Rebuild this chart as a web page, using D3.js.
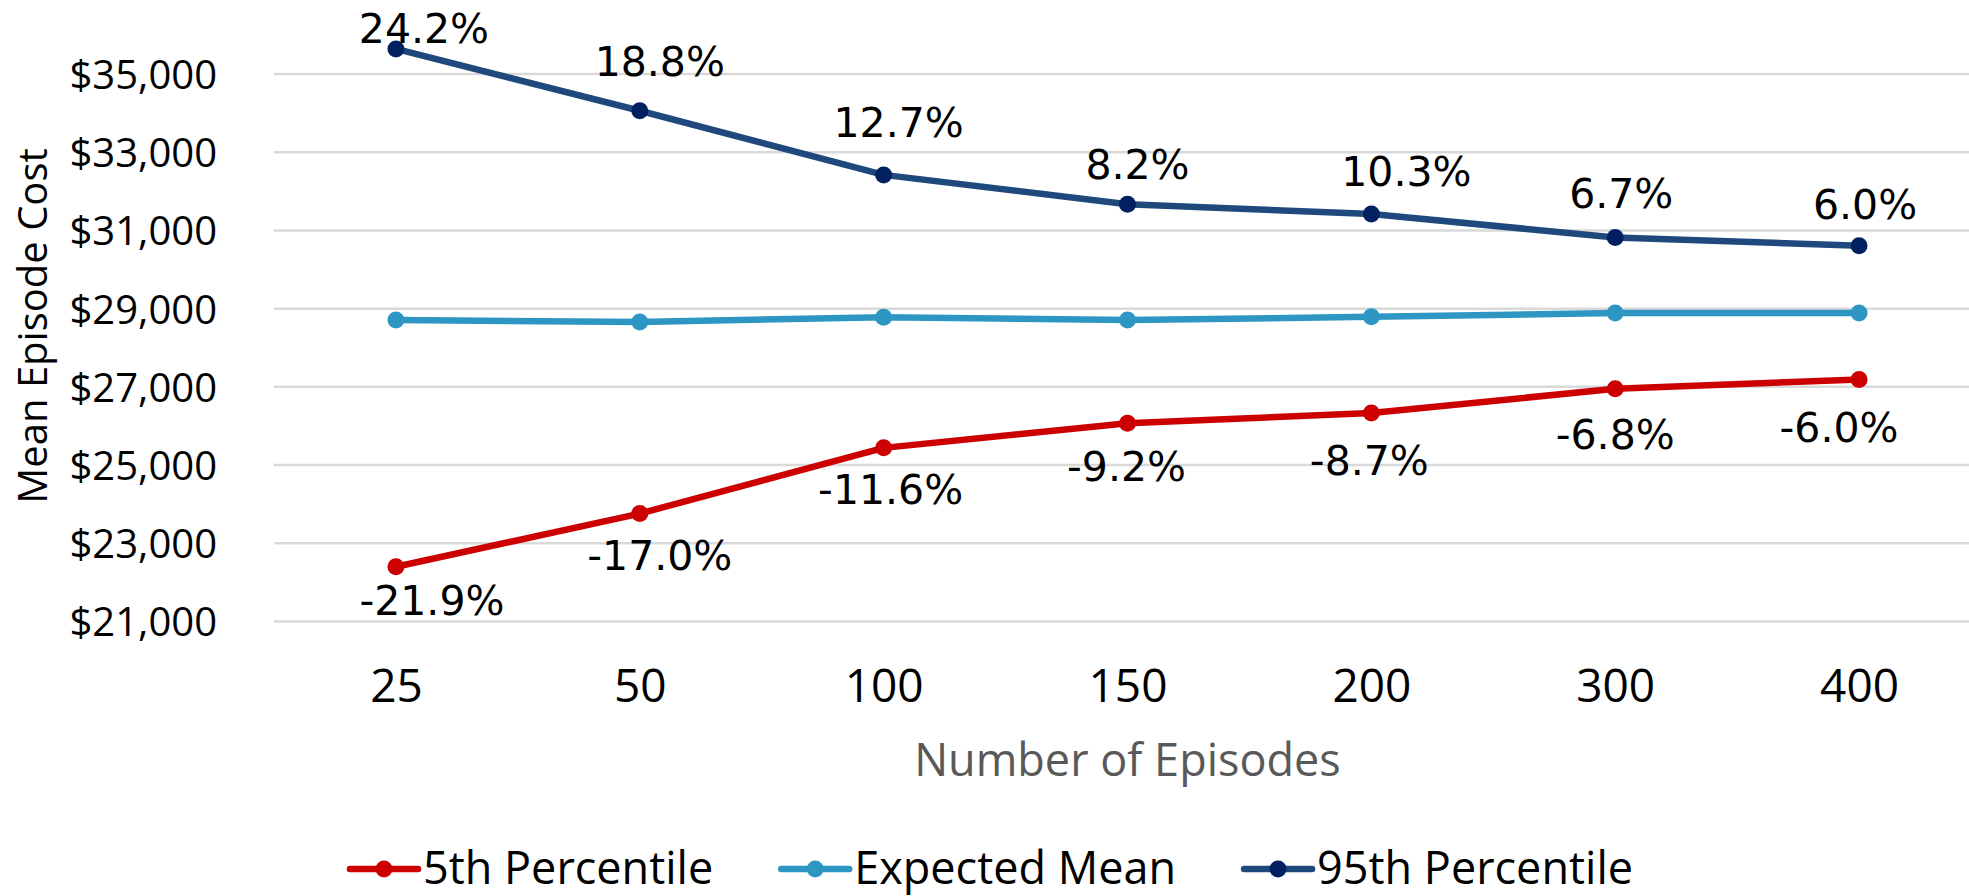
<!DOCTYPE html>
<html>
<head>
<meta charset="utf-8">
<script src="https://cdn.jsdelivr.net/npm/d3@7"></script>
<style>
  html, body { margin: 0; padding: 0; background: #ffffff; }
  svg { display: block; }
</style>
</head>
<body>
<svg id="chart" width="1969" height="896"></svg>
<script>
// Episode counts on the x axis
const episodes = ["25", "50", "100", "150", "200", "300", "400"];

// Mean episode cost by number of episodes
const p5Values = [22400, 23760, 25440, 26070, 26330, 26950, 27190];
const meanValues = [28710, 28660, 28780, 28710, 28790, 28890, 28890];
const p95Values = [35640, 34060, 32420, 31670, 31420, 30820, 30610];

// Percent differences from the expected mean, printed by the points
const p5Labels = ["-21.9%", "-17.0%", "-11.6%", "-9.2%", "-8.7%", "-6.8%", "-6.0%"];
const p95Labels = ["24.2%", "18.8%", "12.7%", "8.2%", "10.3%", "6.7%", "6.0%"];

// Y axis ticks
const yTicks = [21000, 23000, 25000, 27000, 29000, 31000, 33000, 35000];

// Hand placement of the percentage labels relative to their points [dx, dy]
const p95LabelNudge = [[28, -6], [20, -35], [15, -38], [10, -25], [35, -28], [6, -29], [6, -27]];
const p5LabelNudge = [[36, 48], [20, 56], [7, 56], [-1, 58], [-2, 62], [0, 60], [-20, 63]];

const series = [
  { name: "5th Percentile", values: p5Values, line: "#cc0000", marker: "#cc0000" },
  { name: "Expected Mean", values: meanValues, line: "#2e96c3", marker: "#2e96c3" },
  { name: "95th Percentile", values: p95Values, line: "#1f497d", marker: "#002060" }
];

const svg = d3.select("#chart");
const W = 1969, H = 896;
svg.append("rect").attr("width", W).attr("height", H).attr("fill", "#ffffff");

const plot = { left: 274, right: 1981, top: 74, bottom: 621.5 };

const x = d3.scalePoint().domain(episodes).range([plot.left, plot.right]).padding(0.5);
const y = d3.scaleLinear().domain([21000, 35000]).range([plot.bottom, plot.top]);

const axisFont = "'Open Sans', 'Noto Sans', sans-serif";
const labelFont = "'DejaVu Sans', Verdana, sans-serif";

// Horizontal gridlines
svg.append("g").selectAll("line").data(yTicks).join("line")
  .attr("x1", plot.left).attr("x2", plot.right)
  .attr("y1", d => y(d)).attr("y2", d => y(d))
  .attr("stroke", "#d9d9d9").attr("stroke-width", 2.5);

// Y axis tick labels
const yAxis = d3.axisLeft(y).tickValues(yTicks).tickSize(0).tickPadding(0)
  .tickFormat(d => "$" + d3.format(",")(d));
const gy = svg.append("g").attr("transform", "translate(217,0)").call(yAxis);
gy.select(".domain").remove();
gy.selectAll("text")
  .attr("font-family", axisFont).attr("font-size", 40).attr("fill", "#000")
  .attr("dy", "0.36em");

// X axis tick labels
const xAxis = d3.axisBottom(x).tickSize(0).tickPadding(0);
const gx = svg.append("g").attr("transform", "translate(0,702)").call(xAxis);
gx.select(".domain").remove();
gx.selectAll("text")
  .attr("font-family", axisFont).attr("font-size", 46).attr("fill", "#000")
  .attr("dy", 0).attr("y", 0);

// Axis titles
svg.append("text")
  .attr("x", (plot.left + plot.right) / 2).attr("y", 776)
  .attr("text-anchor", "middle")
  .attr("font-family", axisFont).attr("font-size", 45).attr("fill", "#595959")
  .text("Number of Episodes");

svg.append("text")
  .attr("transform", "translate(47,326) rotate(-90)")
  .attr("text-anchor", "middle")
  .attr("font-family", axisFont).attr("font-size", 40).attr("fill", "#000")
  .text("Mean Episode Cost");

// Series lines and markers
const line = d3.line().x((d, i) => x(episodes[i])).y(d => y(d));
series.forEach(s => {
  svg.append("path").datum(s.values)
    .attr("d", line).attr("fill", "none")
    .attr("stroke", s.line).attr("stroke-width", 6.5)
    .attr("stroke-linejoin", "round");
  svg.append("g").selectAll("circle").data(s.values).join("circle")
    .attr("cx", (d, i) => x(episodes[i])).attr("cy", d => y(d))
    .attr("r", 8.5).attr("fill", s.marker);
});

// Percentage labels
function drawLabels(values, labels, nudge) {
  svg.append("g").selectAll("text").data(values).join("text")
    .attr("x", (d, i) => x(episodes[i]) + nudge[i][0])
    .attr("y", (d, i) => y(d) + nudge[i][1])
    .attr("text-anchor", "middle")
    .attr("font-family", labelFont).attr("font-size", 41).attr("fill", "#000")
    .text((d, i) => labels[i]);
}
drawLabels(p95Values, p95Labels, p95LabelNudge);
drawLabels(p5Values, p5Labels, p5LabelNudge);

// Legend
const legend = svg.append("g");
const swatch = 68, textGap = 5, itemGap = 68, legendY = 869;
let cursor = 0;
series.forEach(s => {
  const item = legend.append("g").attr("transform", `translate(${cursor},0)`);
  item.append("line").attr("x1", 0).attr("x2", swatch)
    .attr("y1", legendY).attr("y2", legendY)
    .attr("stroke", s.line).attr("stroke-width", 6.5).attr("stroke-linecap", "round");
  item.append("circle").attr("cx", swatch / 2).attr("cy", legendY).attr("r", 8.5).attr("fill", s.marker);
  const t = item.append("text").attr("x", swatch + textGap).attr("y", 884)
    .attr("font-family", axisFont).attr("font-size", 45).attr("fill", "#000")
    .text(s.name);
  cursor += swatch + textGap + t.node().getComputedTextLength() + itemGap;
});
const legendWidth = cursor - itemGap;
legend.attr("transform", `translate(${991.5 - legendWidth / 2},0)`);
</script>
</body>
</html>
